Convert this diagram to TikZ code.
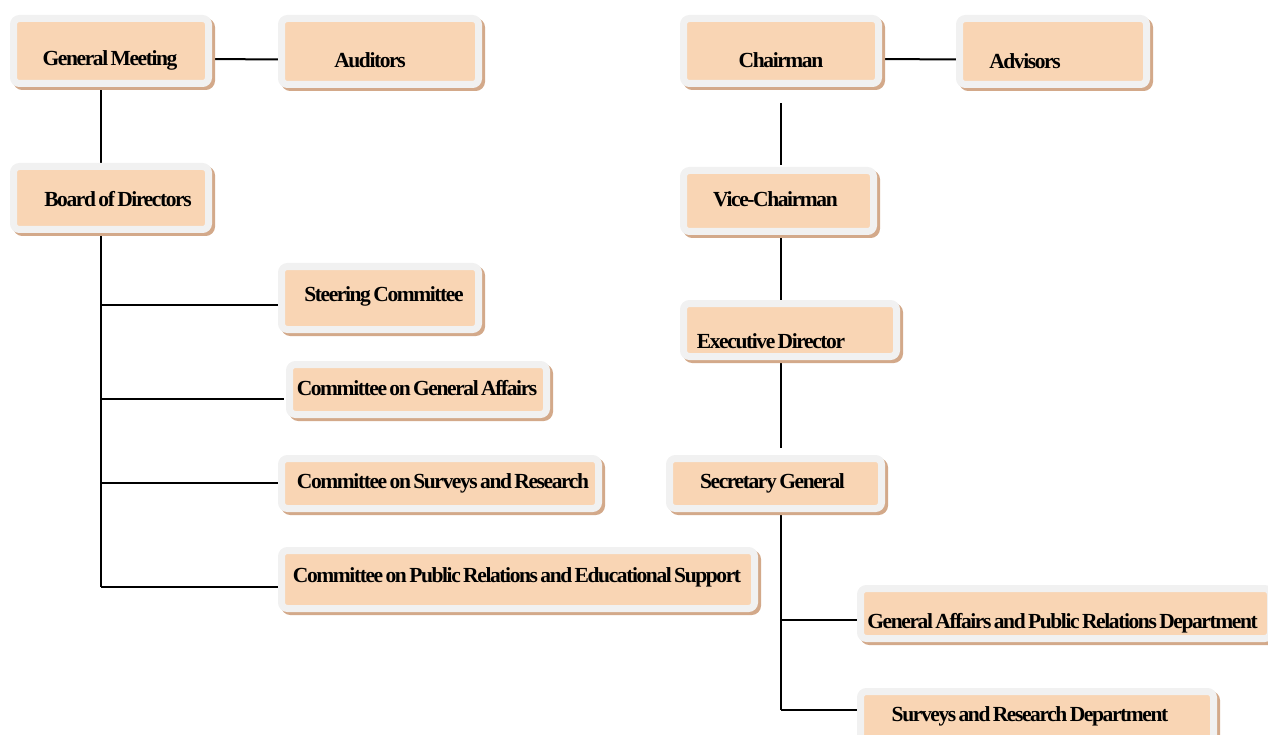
\documentclass[tikz,border=0pt]{standalone}
\usepackage{fontspec}
\setmainfont{Liberation Serif}
\newfontfamily\boxfont{Liberation Serif}[WordSpace=0.6,LetterSpace=-6.5]
\usetikzlibrary{
  shadows,
  backgrounds
}
\definecolor{peach}{HTML}{F9D5B4}
\definecolor{rimgray}{HTML}{F1F1F1}
\definecolor{shadowtan}{HTML}{D3A98A}
\newcommand\boxlabel[3]{\raisebox{-#2pt}[0pt][0pt]{\makebox[0pt]{\hspace*{#1pt}\hspace*{#1pt}#3}}}
\tikzset{
  orgbox/.style={
    fill=peach,
    draw=rimgray,
    line width=7pt,
    rounded corners=6pt,
    inner sep=0pt,
    outer sep=0pt,
    text height=1.5ex,
    text depth=.25ex,
    general shadow={shadow xshift=3pt,shadow yshift=-3pt,fill=shadowtan,draw=shadowtan,line width=7pt},
    font=\boxfont\bfseries\fontsize{21.5}{24}\selectfont
  },
  boxsize/.style 2 args={
    minimum width={#1pt-7pt},
    minimum height={#2pt-7pt}
  },
  link/.style={
    draw,
    line width=2pt
  }
}

\begin{document}
\begin{tikzpicture}[x=1pt,y=-1pt]
  \useasboundingbox (0,0) rectangle (1268,735);
  % left column
  \node[orgbox,boxsize={202}{72}] (gm) at (111,51) {\boxlabel{-1}{12}{General Meeting}};
  \node[orgbox,boxsize={204}{73}] (aud) at (380,51.5) {\boxlabel{-10}{13.5}{Auditors}};
  \node[orgbox,boxsize={202}{70}] (bod) at (111,198) {\boxlabel{7}{6}{Board of Directors}};
  \node[orgbox,boxsize={204}{70}] (steer) at (380,298) {\boxlabel{4}{1}{Steering Committee}};
  \node[orgbox,boxsize={264}{57}] (cga) at (418,389.5) {\boxlabel{-1}{3}{Committee on General Affairs}};
  \node[orgbox,boxsize={324}{57}] (csr) at (440,483.5) {\boxlabel{3}{2}{Committee on Surveys and Research}};
  \node[orgbox,boxsize={480}{65}] (cpr) at (518,579.5) {\boxlabel{-1}{0}{Committee on Public Relations and Educational Support}};
  % right column
  \node[orgbox,boxsize={202}{72}] (chair) at (781,51) {\boxlabel{0}{14}{Chairman}};
  \node[orgbox,boxsize={194}{73}] (adv) at (1053,51.5) {\boxlabel{-28}{14}{Advisors}};
  \node[orgbox,boxsize={197}{68}] (vc) at (778.5,201) {\boxlabel{-3}{3}{Vice-Chairman}};
  \node[orgbox,boxsize={220}{60}] (ed) at (790,330) {\boxlabel{-19}{16}{Executive Director}};
  \node[orgbox,boxsize={219}{57}] (sg) at (775.5,483.5) {\boxlabel{-3}{2}{Secretary General}};
  \node[orgbox,boxsize={417}{57}] (gapr) at (1065.5,613.5) {\boxlabel{-3}{12.5}{General Affairs and Public Relations Department}};
  \node[orgbox,boxsize={360}{57}] (srd) at (1037,716.5) {\boxlabel{-7}{2.5}{Surveys and Research Department}};

  \coordinate (bd-steer) at (101,305);
  \coordinate (bd-cga) at (101,399);
  \coordinate (bd-csr) at (101,483);
  \coordinate (bd-cpr) at (101,587);
  \coordinate (sg-top) at (781,512);
  \coordinate (sg-ga) at (781,620);
  \coordinate (sg-sr) at (781,710);

  \begin{scope}[on background layer]
    \draw[link] ([yshift=-8pt]gm.east) -- ([yshift=-8pt]aud.west);
    \draw[link] ([xshift=-10pt]gm.south) -- ([xshift=-10pt]bod.north);
    \draw[link] ([xshift=-10pt]bod.south) -- (bd-cpr);
    \draw[link] (bd-steer) -- (bd-steer -| steer.west);
    \draw[link,shorten >=6pt] (bd-cga) -- (bd-cga -| cga.west);
    \draw[link] (bd-csr) -- (bd-csr -| csr.west);
    \draw[link] (bd-cpr) -- (bd-cpr -| cpr.west);
    \draw[link] ([yshift=-8pt]chair.east) -- ([yshift=-8pt]adv.west);
    \draw[link,shorten <=20pt,shorten >=5pt] (chair.south) -- (chair.south |- vc.north);
    \draw[link] (chair.south |- vc.south) -- (chair.south |- ed.north);
    \draw[link,shorten <=6pt,shorten >=11pt] (chair.south |- ed.south) -- (chair.south |- sg.north);
    \draw[link] (sg-top) -- (sg-sr);
    \draw[link] (sg-ga) -- (sg-ga -| gapr.west);
    \draw[link] (sg-sr) -- (sg-sr -| srd.west);
  \end{scope}
\end{tikzpicture}
\end{document}
